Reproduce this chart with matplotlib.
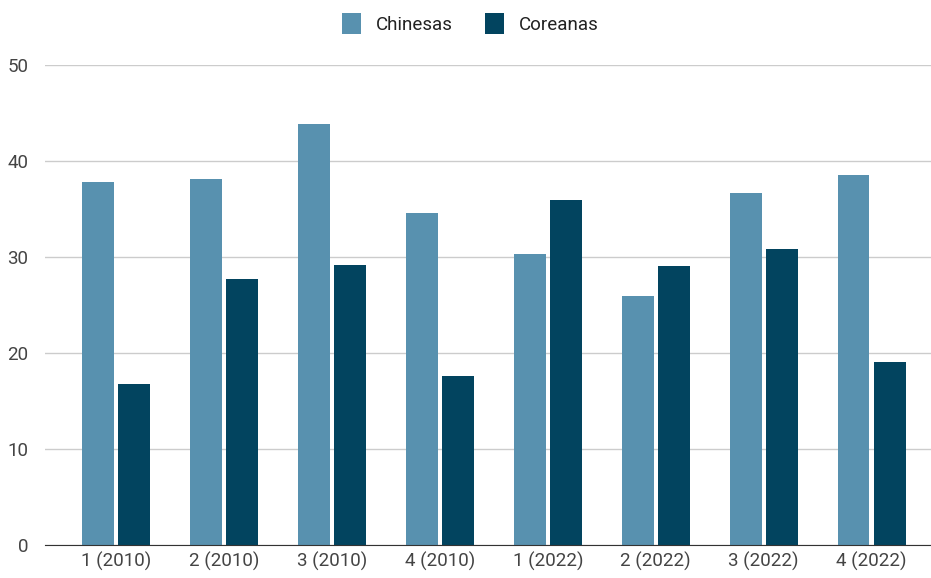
import matplotlib.pyplot as plt
import numpy as np

plt.rcParams['font.family'] = ['Roboto', 'DejaVu Sans']

categories = ['1 (2010)', '2 (2010)', '3 (2010)', '4 (2010)',
              '1 (2022)', '2 (2022)', '3 (2022)', '4 (2022)']
chinesas = [37.8, 38.1, 43.9, 34.6, 30.3, 25.9, 36.7, 38.5]
coreanas = [16.8, 27.7, 29.2, 17.6, 35.9, 29.1, 30.8, 19.1]

fig = plt.figure(figsize=(9.31, 5.78), dpi=100)
ax = fig.add_axes([45/931, 33/578, 886/931, 480/578])

x = np.arange(len(categories))
w = 0.295
gap = 0.02
ax.bar(x - w/2 - gap, chinesas, w, color='#5891af', label='Chinesas', zorder=3)
ax.bar(x + w/2 + gap, coreanas, w, color='#02445f', label='Coreanas', zorder=3)

ax.set_ylim(0, 50)
ax.set_xlim(-0.66, 7.55)
ax.set_yticks([0, 10, 20, 30, 40, 50])
ax.set_xticks(x)
ax.set_xticklabels(categories)
ax.grid(axis='y', color='#cccccc', linewidth=1, zorder=0)
ax.tick_params(length=0, labelsize=13.5, labelcolor='#444444')
ax.tick_params(axis='y', pad=12)
ax.tick_params(axis='x', pad=5)
for s in ['top', 'right', 'left']:
    ax.spines[s].set_visible(False)
ax.spines['bottom'].set_color('#333333')
ax.spines['bottom'].set_zorder(4)

ax.legend(loc='upper center', bbox_to_anchor=(0.48, 1.143), ncol=2, frameon=False,
          fontsize=13.5, handlelength=1.0, handleheight=1.3, columnspacing=1.7,
          handletextpad=0.8, labelcolor='#222222')

fig.savefig('out.png', dpi=100)
